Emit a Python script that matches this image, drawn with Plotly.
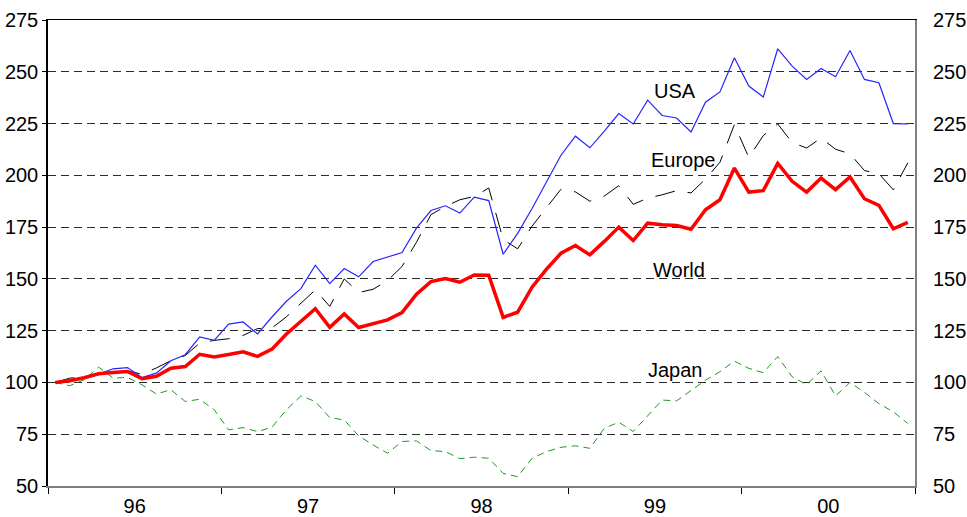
import plotly.graph_objects as go

months = list(range(60))  # Jan 1996 .. Dec 2000

usa = [100, 101.3, 102.1, 104, 106.6, 107.2, 102.4, 104.5, 110.5, 113.4,
       122, 120.3, 128.2, 129.2, 123.4, 131.6, 139.2, 145.3, 156.6, 147.7,
       155, 151, 158.4, 160.5, 162.7, 174.5, 183, 185.3, 181.8, 189.5,
       187.8, 161.9, 172, 184, 197, 209.7, 218.9, 213.3, 221.3, 229.8,
       224.8, 236.3, 228.9, 227.7, 220.9, 235.3, 240.3, 256.8, 243.1, 237.8,
       261.1, 252.7, 246.3, 251.6, 247.6, 260.3, 246.3, 244.7, 225, 224.8]

europe = [100, 102.1, 102.4, 104, 104.8, 105.6, 104, 107, 110.5, 113,
          119, 120.3, 121.1, 122.7, 126, 126.3, 131.7, 138.3, 144.7, 136.7,
          150, 143.4, 145, 149.2, 156, 167.7, 181, 185, 188.2, 189.8,
          193.9, 169, 164.5, 175.5, 184.5, 193.3, 192, 187.5, 190, 195,
          186, 189, 190.6, 192.6, 191.5, 198.2, 206.3, 224.5, 208.6, 219.2,
          224.8, 215.8, 213.2, 218, 212.6, 210.4, 202.3, 200.8, 193, 206]

world = [100, 100.8, 102.3, 104.2, 104.8, 105.3, 101.8, 103, 106.9, 107.7,
         113.6, 112.3, 113.5, 114.8, 112.6, 116.1, 123.4, 129.5, 135.6, 126.6,
         133.1, 126.5, 128.5, 130.2, 133.7, 142.6, 148.7, 150.2, 148.4, 151.9,
         151.8, 131.4, 133.9, 146, 154.7, 162.4, 166.1, 161.6, 168.1, 175,
         168.5, 176.9, 176.1, 175.8, 174, 183.4, 188.2, 203.5, 191.9, 192.6,
         205.8, 197.1, 191.9, 198.7, 193.1, 199.2, 188.7, 185.5, 174.2, 177.3]

japan = [100, 98.4, 101.3, 107.4, 102.1, 102.4, 98.9, 94.4, 96.5, 90.8,
         91.9, 86.8, 77.1, 78.2, 76.3, 78.4, 86.8, 93.5, 90.8, 83,
         81.9, 74.2, 69.8, 65.8, 71.5, 71.8, 67.1, 66.6, 63.2, 63.9,
         63.4, 56.1, 54.5, 63.4, 66.6, 68.7, 69.4, 68.2, 77.9, 80.8,
         76.3, 83.9, 91.5, 91.1, 96.3, 101.1, 105.2, 110.3, 106.8, 104.7,
         112.5, 102.7, 99, 105.6, 93.5, 100, 95.2, 89.8, 85.8, 80.2]

year_labels = ["96", "97", "98", "99", "00"]
year_centers = [5.5, 17.5, 29.5, 41.5, 53.5]
year_bounds = [-0.5, 11.5, 23.5, 35.5, 47.5, 59.5]
y_ticks = [50, 75, 100, 125, 150, 175, 200, 225, 250, 275]

labels = ["USA", "Europe", "World", "Japan"]
label_x = [42.9, 43.5, 43.2, 42.9]
label_y = [240.7, 207.4, 154.5, 106]

FONT = "Arial, Liberation Sans, sans-serif"

fig = go.Figure()
fig.add_trace(go.Scatter(x=months, y=japan, mode="lines", name="Japan",
                         line=dict(color="#1f9a1f", width=1, dash="7px,5px")))
fig.add_trace(go.Scatter(x=months, y=europe, mode="lines", name="Europe",
                         line=dict(color="black", width=1, dash="20px,13px")))
fig.add_trace(go.Scatter(x=months, y=usa, mode="lines", name="USA",
                         line=dict(color="#2424ff", width=1.2)))
fig.add_trace(go.Scatter(x=months, y=world, mode="lines", name="World",
                         line=dict(color="#ff0000", width=3.5)))
# invisible trace to anchor the secondary axes
fig.add_trace(go.Scatter(x=months, y=world, mode="lines", xaxis="x2", yaxis="y2",
                         line=dict(width=0), hoverinfo="skip", showlegend=False,
                         opacity=0))

for t, xx, yy in zip(labels, label_x, label_y):
    fig.add_annotation(x=xx, y=yy, text=t, showarrow=False,
                       font=dict(family=FONT, size=20, color="black"),
                       xanchor="center", yanchor="middle")

fig.update_layout(
    width=967, height=517,
    margin=dict(l=48, r=52, t=20, b=31, autoexpand=False),
    paper_bgcolor="white", plot_bgcolor="white",
    showlegend=False,
    font=dict(family=FONT, size=20, color="black"),
    xaxis=dict(range=[-0.5, 59.5], tickmode="array", tickvals=year_centers,
               ticktext=year_labels, ticks="", showgrid=False, zeroline=False,
               showline=True, linecolor="#808080", linewidth=2, automargin=False,
               ticklabelstandoff=1,
               minor=dict(tickmode="array", tickvals=year_bounds, ticks="outside",
                          ticklen=6, tickcolor="black", tickwidth=1, showgrid=False)),
    xaxis2=dict(range=[-0.5, 59.5], overlaying="x", side="top", showline=True,
                linecolor="black", linewidth=1, showticklabels=False, ticks="",
                showgrid=False, zeroline=False, automargin=False),
    yaxis=dict(range=[50, 275], tickmode="array", tickvals=y_ticks,
               ticks="outside", ticklen=4, tickcolor="black", automargin=False,
               showline=True, linecolor="black", linewidth=1.5,
               showgrid=True, gridcolor="#2a2a2a", gridwidth=1, griddash="8px,5px",
               zeroline=False),
    yaxis2=dict(range=[50, 275], overlaying="y", side="right", tickmode="array",
                tickvals=y_ticks, ticks="", showline=True, linecolor="#808080",
                linewidth=2, showgrid=False, zeroline=False, automargin=False,
                ticklabelstandoff=12),
)

fig.write_html(
    "out.html",
    config={"displayModeBar": False},
    post_script="document.body.style.margin='0';document.body.style.padding='0';"
                "document.body.style.overflow='hidden';",
)
